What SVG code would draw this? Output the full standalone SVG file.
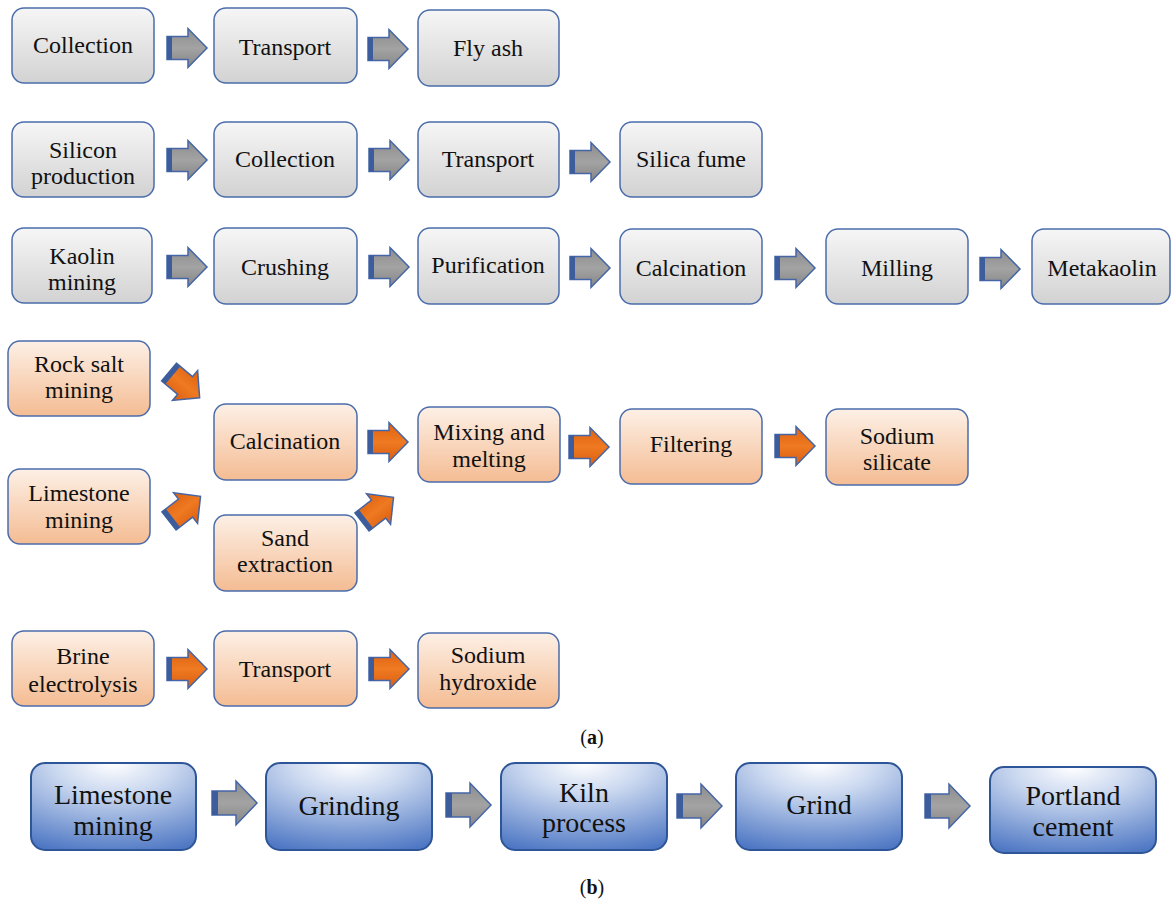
<svg xmlns="http://www.w3.org/2000/svg" width="1171" height="904" viewBox="0 0 1171 904">
<defs>
<linearGradient id="gGray" x1="0" y1="0" x2="0" y2="1">
<stop offset="0" stop-color="#f6f6f6"/><stop offset="1" stop-color="#d2d2d2"/>
</linearGradient>
<linearGradient id="gOr" x1="0" y1="0" x2="0" y2="1">
<stop offset="0" stop-color="#fdf0e6"/><stop offset="1" stop-color="#f4bc93"/>
</linearGradient>
<radialGradient id="gBlue" cx="0.5" cy="0" r="1.05" fx="0.5" fy="0">
<stop offset="0" stop-color="#ffffff"/><stop offset="0.35" stop-color="#c9d7ef"/><stop offset="1" stop-color="#4f78c4"/>
</radialGradient>
<linearGradient id="gArr" x1="0" y1="0" x2="0" y2="1">
<stop offset="0" stop-color="#8c8c8c"/><stop offset="0.5" stop-color="#a3a3a3"/><stop offset="1" stop-color="#858585"/>
</linearGradient>
<linearGradient id="gArrO" x1="0" y1="0" x2="0" y2="1">
<stop offset="0" stop-color="#e0600f"/><stop offset="0.5" stop-color="#ee7a22"/><stop offset="1" stop-color="#dc5c0e"/>
</linearGradient>
<g id="arrG">
<path d="M0,-11.5 H21 V-19.5 L40,0 L21,19.5 V11.5 H0 Z" fill="url(#gArr)" stroke="#4466a6" stroke-width="1.5" stroke-linejoin="miter"/>
<rect x="0" y="-11.5" width="5" height="23" fill="#3c5c9c"/>
</g>
<g id="arrO">
<path d="M0,-11.5 H21 V-19.5 L40,0 L21,19.5 V11.5 H0 Z" fill="url(#gArrO)" stroke="#4466a6" stroke-width="1.5" stroke-linejoin="miter"/>
<rect x="0" y="-11.5" width="5" height="23" fill="#3c5c9c"/>
</g>
<g id="arrB">
<path d="M0,-12 H24 V-22 L45,0 L24,22 V12 H0 Z" fill="url(#gArr)" stroke="#4466a6" stroke-width="1.5"/>
<rect x="0" y="-12" width="6" height="24" fill="#3c5c9c"/>
</g>
</defs>
<style>
.g rect{fill:url(#gGray);stroke:#4a6cab;stroke-width:1.5}
.o rect{fill:url(#gOr);stroke:#4a6cab;stroke-width:1.5}
.b rect{fill:url(#gBlue);stroke:#2e5597;stroke-width:2}
text{font-family:"Liberation Serif","Times New Roman",serif;font-size:24px;fill:#111;text-anchor:middle}
.b text{font-size:28px}
.lab{font-size:20px}
</style>
<rect width="1171" height="904" fill="#fff"/>

<g id="connectors">
<use href="#arrG" x="167" y="48"/>
<use href="#arrG" x="368" y="49"/>
<use href="#arrG" x="167" y="160"/>
<use href="#arrG" x="369" y="160"/>
<use href="#arrG" x="570" y="162"/>
<use href="#arrG" x="167" y="267"/>
<use href="#arrG" x="369" y="267"/>
<use href="#arrG" x="570" y="268"/>
<use href="#arrG" x="775" y="268"/>
<use href="#arrG" x="980" y="269"/>
<use href="#arrO" transform="translate(169,372) rotate(40)"/>
<use href="#arrO" transform="translate(169,521) rotate(-38)"/>
<use href="#arrO" transform="translate(362,522) rotate(-38)"/>
<use href="#arrO" x="368" y="442"/>
<use href="#arrO" x="569" y="447"/>
<use href="#arrO" x="775" y="446"/>
<use href="#arrO" x="167" y="669"/>
<use href="#arrO" x="369" y="669"/>
<use href="#arrB" x="212" y="803"/>
<use href="#arrB" x="446" y="805"/>
<use href="#arrB" x="677" y="806"/>
<use href="#arrB" x="925" y="806"/>
</g>

<g id="n-collection1" class="g"><rect x="12" y="8" width="142" height="75" rx="12"/><text x="83" y="53">Collection</text></g>
<g id="n-transport1" class="g"><rect x="214" y="8" width="143" height="75" rx="12"/><text x="285" y="55">Transport</text></g>
<g id="n-flyash" class="g"><rect x="418" y="10" width="141" height="76" rx="12"/><text x="488" y="56">Fly ash</text></g>

<g id="n-silicon" class="g"><rect x="12" y="122" width="142" height="75" rx="12"/><text x="83" y="158">Silicon</text><text x="83" y="184">production</text></g>
<g id="n-collection2" class="g"><rect x="214" y="122" width="143" height="75" rx="12"/><text x="285" y="167">Collection</text></g>
<g id="n-transport2" class="g"><rect x="418" y="122" width="141" height="75" rx="12"/><text x="488" y="167">Transport</text></g>
<g id="n-silicafume" class="g"><rect x="620" y="122" width="142" height="75" rx="12"/><text x="691" y="167">Silica fume</text></g>

<g id="n-kaolin" class="g"><rect x="12" y="228" width="140" height="75" rx="12"/><text x="82" y="264">Kaolin</text><text x="82" y="290">mining</text></g>
<g id="n-crushing" class="g"><rect x="214" y="228" width="143" height="76" rx="12"/><text x="285" y="275">Crushing</text></g>
<g id="n-purification" class="g"><rect x="418" y="228" width="141" height="76" rx="12"/><text x="488" y="273">Purification</text></g>
<g id="n-calcination1" class="g"><rect x="620" y="229" width="142" height="75" rx="12"/><text x="691" y="276">Calcination</text></g>
<g id="n-milling" class="g"><rect x="826" y="229" width="142" height="75" rx="12"/><text x="897" y="276">Milling</text></g>
<g id="n-metakaolin" class="g"><rect x="1032" y="229" width="138" height="75" rx="12"/><text x="1102" y="276">Metakaolin</text></g>

<g id="n-rocksalt" class="o"><rect x="8" y="341" width="142" height="75" rx="12"/><text x="79" y="372">Rock salt</text><text x="79" y="398">mining</text></g>
<g id="n-limestone1" class="o"><rect x="8" y="469" width="142" height="75" rx="12"/><text x="79" y="501">Limestone</text><text x="79" y="528">mining</text></g>
<g id="n-calcination2" class="o"><rect x="214" y="404" width="143" height="76" rx="12"/><text x="285" y="449">Calcination</text></g>
<g id="n-sand" class="o"><rect x="214" y="515" width="143" height="76" rx="12"/><text x="285" y="546">Sand</text><text x="285" y="572">extraction</text></g>
<g id="n-mixing" class="o"><rect x="418" y="407" width="142" height="75" rx="12"/><text x="489" y="440">Mixing and</text><text x="489" y="467">melting</text></g>
<g id="n-filtering" class="o"><rect x="620" y="409" width="142" height="75" rx="12"/><text x="691" y="452">Filtering</text></g>
<g id="n-sodiumsilicate" class="o"><rect x="826" y="409" width="142" height="76" rx="12"/><text x="897" y="444">Sodium</text><text x="897" y="470">silicate</text></g>

<g id="n-brine" class="o"><rect x="12" y="631" width="142" height="75" rx="12"/><text x="83" y="664">Brine</text><text x="83" y="692">electrolysis</text></g>
<g id="n-transport3" class="o"><rect x="214" y="631" width="143" height="75" rx="12"/><text x="285" y="677">Transport</text></g>
<g id="n-naoh" class="o"><rect x="418" y="633" width="141" height="75" rx="12"/><text x="488" y="663">Sodium</text><text x="488" y="690">hydroxide</text></g>

<text class="lab" x="592" y="744">(<tspan font-weight="bold">a</tspan>)</text>

<g id="n-limestone2" class="b"><rect x="31" y="763" width="165" height="87" rx="14"/><text x="113" y="804">Limestone</text><text x="113" y="835">mining</text></g>
<g id="n-grinding" class="b"><rect x="266" y="763" width="166" height="87" rx="14"/><text x="349" y="815">Grinding</text></g>
<g id="n-kiln" class="b"><rect x="501" y="763" width="166" height="87" rx="14"/><text x="584" y="802">Kiln</text><text x="584" y="832">process</text></g>
<g id="n-grind" class="b"><rect x="736" y="763" width="166" height="87" rx="14"/><text x="819" y="814">Grind</text></g>
<g id="n-portland" class="b"><rect x="990" y="767" width="166" height="86" rx="14"/><text x="1073" y="805">Portland</text><text x="1073" y="836">cement</text></g>

<text class="lab" x="592" y="894">(<tspan font-weight="bold">b</tspan>)</text>
</svg>
